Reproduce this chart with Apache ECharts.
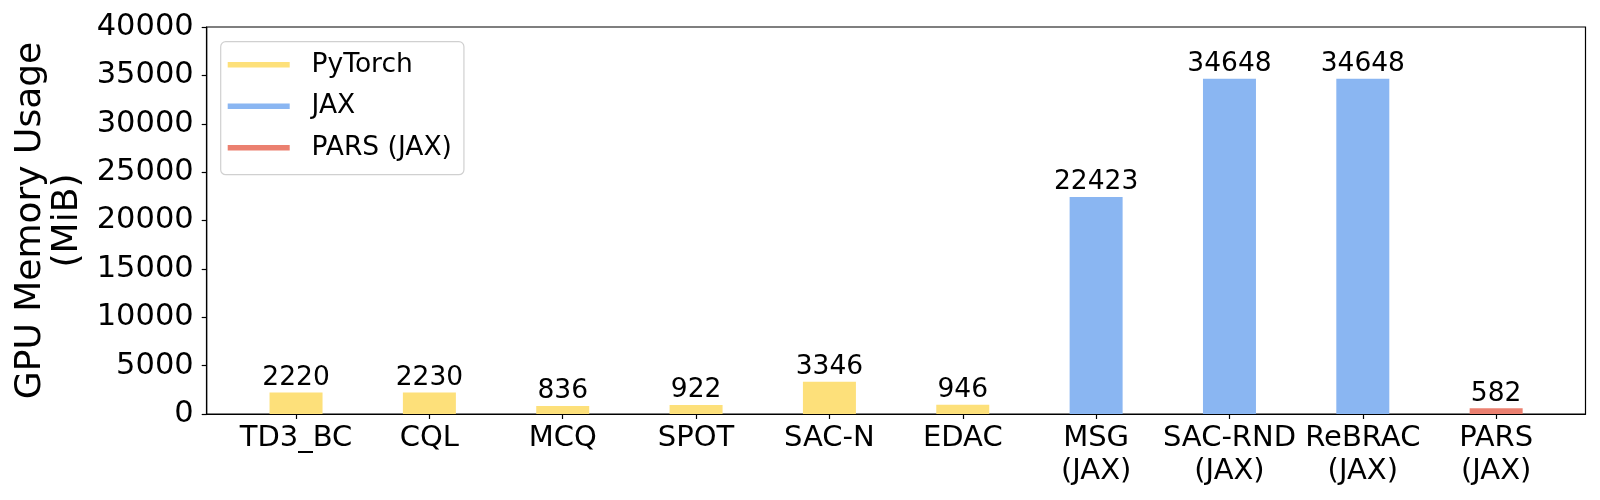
<!DOCTYPE html>
<html>
<head>
<meta charset="utf-8">
<script src="https://cdn.jsdelivr.net/npm/echarts@6/dist/echarts.min.js"></script>
<style>
html,body{margin:0;padding:0;background:#fff;}
#chart{width:1600px;height:500px;}
</style>
</head>
<body>
<div id="chart"></div>
<script>
const categories = ['TD3_BC','CQL','MCQ','SPOT','SAC-N','EDAC','MSG\n(JAX)','SAC-RND\n(JAX)','ReBRAC\n(JAX)','PARS\n(JAX)'];
const pytorchIdx = [0,1,2,3,4,5];
const pytorchVals = [2220,2230,836,922,3346,946];
const jaxIdx = [6,7,8];
const jaxVals = [22423,34648,34648];
const parsIdx = [9];
const parsVals = [582];
const legendNames = ['PyTorch', 'JAX', 'PARS (JAX)'];

const FONT = 'DejaVu Sans';
const pair = (idx, vals) => idx.map((x, i) => [x, vals[i]]);
const catPos = categories.map((_, i) => i);

function barSeries(name, color, data) {
  return {
    name: name,
    type: 'bar',
    data: data,
    barWidth: 53,
    barGap: '-100%',
    itemStyle: { color: color },
    label: {
      show: true,
      position: 'top',
      distance: 1,
      color: '#000',
      fontFamily: FONT,
      fontSize: 26.5,
      formatter: p => String(p.value[1])
    }
  };
}

const chart = echarts.init(document.getElementById('chart'), null, { renderer: 'canvas' });
chart.setOption({
  animation: false,
  backgroundColor: '#fff',
  grid: {
    left: 206.7, right: 14.5, top: 27, bottom: 86,
    containLabel: false,
    outerBoundsMode: 'none',
    show: true, borderColor: '#000', borderWidth: 1.2, backgroundColor: 'transparent'
  },
  legend: {
    orient: 'vertical',
    left: 220.7, top: 41.7,
    data: legendNames,
    icon: 'rect',
    itemWidth: 62, itemHeight: 5.5,
    itemGap: 11.5,
    padding: [8, 12, 12, 7],
    formatter: name => '  ' + name,
    backgroundColor: 'rgba(255,255,255,0.8)',
    borderColor: '#d0d0d0', borderWidth: 1.2, borderRadius: 5,
    textStyle: { fontFamily: FONT, fontSize: 26.5, color: '#000', lineHeight: 30 }
  },
  xAxis: {
    type: 'value',
    min: -0.67, max: 9.67,
    splitLine: { show: false },
    axisLine: { show: true, onZero: false, lineStyle: { color: '#000', width: 1.2 } },
    axisTick: { show: true, customValues: catPos, length: 5, lineStyle: { color: '#000', width: 1.2 } },
    axisLabel: {
      customValues: catPos,
      formatter: v => categories[Math.round(v)] || '',
      fontFamily: FONT, fontSize: 29, color: '#000', lineHeight: 33, margin: 8
    }
  },
  yAxis: {
    type: 'value',
    min: 0, max: 40000, interval: 5000,
    splitLine: { show: false },
    axisLine: { show: true, onZero: false, lineStyle: { color: '#000', width: 1.2 } },
    axisTick: { show: true, length: 5, lineStyle: { color: '#000', width: 1.2 } },
    axisLabel: { fontFamily: FONT, fontSize: 30.5, color: '#000', margin: 13, formatter: v => String(v) },
    name: 'GPU Memory Usage\n(MiB)',
    nameLocation: 'middle',
    nameRotate: 90,
    nameGap: 90,
    nameTextStyle: { fontFamily: FONT, fontSize: 36, color: '#000', lineHeight: 37 }
  },
  series: [
    barSeries('PyTorch', '#FDE07A', pair(pytorchIdx, pytorchVals)),
    barSeries('JAX', '#8AB6F2', pair(jaxIdx, jaxVals)),
    barSeries('PARS (JAX)', '#EB8070', pair(parsIdx, parsVals))
  ]
});
</script>
</body>
</html>
